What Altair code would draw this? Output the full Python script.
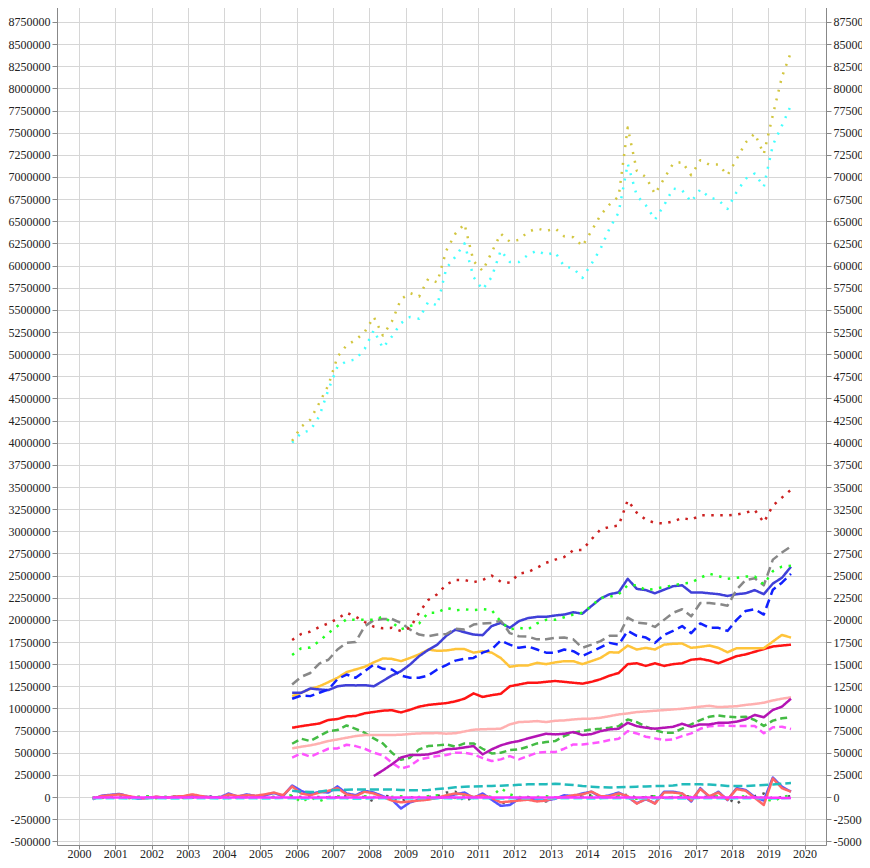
import altair as alt
import pandas as pd

# quarterly positions (decimal years)
x_main = [2005.875 + 0.25 * i for i in range(56)]   # Q4 2005 .. Q3 2019
x_zero = [2000.375 + 0.25 * i for i in range(78)]   # Q2 2000 .. Q3 2019

# ---- main series (thousands) ----
olive_dot = [4020, 4180, 4260, 4450, 4650, 4970, 5100, 5160, 5250, 5420, 5210, 5370, 5620, 5690, 5650, 5850, 5810,
             6170, 6360, 6470, 6050, 5940, 6150, 6360, 6270, 6290, 6380, 6420, 6390, 6420, 6330, 6320, 6220,
             6390, 6570, 6690, 6780, 7560, 7070, 7000, 6810, 6980, 7150, 7170, 7020, 7190, 7140, 7140, 7020,
             7200, 7390, 7490, 7260, 7700, 8130, 8410]
cyan_dot = [4000, 4110, 4140, 4300, 4600, 4860, 4920, 4940, 5060, 5270, 5070, 5200, 5350, 5420, 5400, 5590, 5550,
            5970, 6100, 6250, 5870, 5730, 5870, 6170, 6040, 6040, 6120, 6170, 6120, 6150, 5990, 5970, 5860,
            6020, 6190, 6420, 6600, 7150, 6790, 6680, 6520, 6680, 6870, 6850, 6720, 6860, 6770, 6740, 6640,
            6830, 6980, 7040, 6890, 7360, 7580, 7810]
red_dot = [1773, 1840, 1867, 1920, 1960, 2013, 2080, 2036, 1976, 1923, 1905, 1910, 1874, 1910, 2080, 2224, 2290,
           2400, 2450, 2450, 2426, 2450, 2500, 2430, 2420, 2520, 2540, 2588, 2644, 2680, 2710, 2787, 2790,
           2910, 3020, 3050, 3065, 3350, 3210, 3130, 3095, 3088, 3110, 3150, 3130, 3180, 3180, 3180, 3180,
           3190, 3210, 3240, 3100, 3290, 3380, 3470]
green_dot = [1604, 1680, 1687, 1760, 1850, 1930, 2006, 2000, 2000, 2000, 2036, 1970, 1893, 1930, 1960, 2080, 2080,
             2137, 2107, 2120, 2110, 2120, 2110, 1980, 1893, 1910, 1893, 1960, 2000, 2000, 2030, 2060, 2080,
             2156, 2250, 2260, 2290, 2390, 2390, 2336, 2350, 2370, 2390, 2410, 2420, 2475, 2520, 2495, 2465,
             2475, 2490, 2490, 2400, 2550, 2600, 2610]
gray_dash = [1270, 1357, 1400, 1507, 1550, 1665, 1740, 1750, 1928, 1996, 2010, 2010, 1966, 1890, 1834, 1815, 1834,
             1840, 1900, 1890, 1947, 1960, 1966, 1990, 1850, 1815, 1810, 1780, 1780, 1797, 1800, 1780, 1684,
             1720, 1760, 1820, 1820, 2025, 1970, 1960, 1920, 2000, 2080, 2120, 2040, 2190, 2190, 2180, 2160,
             2340, 2450, 2470, 2390, 2680, 2760, 2830]
blue_dash = [1109, 1146, 1139, 1177, 1214, 1330, 1383, 1346, 1420, 1496, 1447, 1440, 1372, 1346, 1346, 1372, 1440,
             1490, 1540, 1560, 1570, 1630, 1665, 1767, 1720, 1684, 1700, 1665, 1630, 1630, 1665, 1646, 1590,
             1640, 1690, 1740, 1720, 1875, 1820, 1800, 1740, 1830, 1875, 1930, 1850, 1960, 1910, 1910, 1875,
             2000, 2100, 2120, 2060, 2340, 2420, 2520]
blue_thin = [1177, 1177, 1225, 1214, 1207, 1250, 1263, 1260, 1263, 1250, 1310, 1372, 1420, 1496, 1590, 1660, 1720,
             1820, 1890, 1860, 1834, 1827, 1930, 1966, 1910, 1985, 2020, 2034, 2034, 2050, 2060, 2086, 2070,
             2156, 2240, 2290, 2310, 2464, 2350, 2336, 2300, 2340, 2380, 2390, 2310, 2310, 2300, 2290, 2270,
             2290, 2300, 2336, 2290, 2410, 2475, 2600]
gold_thin = [1139, 1177, 1220, 1250, 1297, 1346, 1410, 1440, 1470, 1520, 1564, 1560, 1534, 1570, 1610, 1665, 1650,
             1654, 1670, 1670, 1630, 1646, 1630, 1570, 1470, 1485, 1485, 1515, 1500, 1520, 1534, 1534, 1500,
             1534, 1570, 1635, 1630, 1710, 1665, 1684, 1665, 1720, 1730, 1733, 1684, 1695, 1710, 1684, 1634,
             1680, 1680, 1680, 1680, 1755, 1830, 1800]
red_thick = [782, 800, 815, 830, 870, 880, 910, 915, 945, 960, 975, 980, 955, 985, 1020, 1040, 1050,
             1060, 1080, 1110, 1170, 1130, 1150, 1165, 1250, 1270, 1290, 1290, 1300, 1310, 1300, 1290, 1280,
             1300, 1330, 1370, 1400, 1500, 1510, 1480, 1510, 1480, 1500, 1510, 1550, 1560, 1540, 1510, 1550,
             1590, 1610, 1640, 1670, 1700, 1710, 1720]
pink_thick = [549, 568, 583, 605, 632, 650, 669, 688, 699, 699, 700, 700, 703, 712, 718, 720, 722,
              715, 720, 740, 760, 765, 768, 771, 820, 846, 850, 857, 846, 861, 865, 876, 883,
              885, 895, 913, 932, 944, 959, 966, 974, 981, 989, 996, 1007, 1020, 1030, 1015, 1020,
              1025, 1040, 1050, 1065, 1090, 1110, 1126]
purple_thick = [None, None, None, None, None, None, None, None, None, 237, 300, 370, 445, 474, 474, 481, 505,
                540, 545, 560, 575, 481, 538, 583, 613, 632, 662, 688, 714, 707, 714, 733, 700,
                710, 744, 763, 771, 838, 800, 782, 771, 782, 793, 827, 793, 820, 820, 838, 838,
                851, 876, 926, 900, 983, 1020, 1110]
green_dash = [601, 658, 632, 688, 744, 756, 808, 770, 726, 662, 605, 500, 420, 444, 538, 575, 583,
              594, 568, 605, 605, 545, 492, 500, 530, 538, 568, 605, 620, 632, 688, 726, 744,
              763, 771, 782, 800, 876, 846, 793, 756, 726, 726, 771, 820, 868, 906, 921, 906,
              900, 907, 870, 802, 862, 889, 900]
magenta_dash = [444, 492, 455, 500, 545, 549, 590, 575, 545, 500, 470, 387, 320, 350, 425, 444, 462,
                474, 500, 500, 481, 440, 406, 425, 462, 425, 462, 500, 507, 507, 545, 594, 594,
                605, 620, 643, 658, 744, 718, 680, 662, 643, 650, 688, 718, 770, 800, 806, 806,
                802, 802, 802, 719, 787, 794, 768]
teal_dash = [70, 60, 56, 60, 75, 79, 82, 86, 86, 86, 86, 86, 80, 75, 75, 80, 90,
             98, 110, 117, 120, 122, 124, 128, 132, 138, 143, 143, 145, 150, 143, 135, 124,
             117, 110, 108, 110, 113, 117, 120, 124, 124, 130, 143, 143, 143, 140, 135, 124,
             124, 124, 130, 135, 140, 150, 158]

# ---- near-zero series (thousands), Q2 2000 .. Q3 2019 ----
blue_zero = [-25, 15, 25,
             35, 5, -20, -10, 0, -5, 0, 5, 20, 5, 0, -5, 40, 5, 30, 10,
             20, 45, 10, 130, 70, 30, 60, 50, 120, 40, 20, 70, 50, 10, -30, -130,
             -60, -30, -20, -10, 0, 30, 50, -10, 40, -30, -100, -90, -20, -10, -30, -40,
             -20, 20, 10, 40, 60, 0, 20, 50, 0, -70, -25, -70, 60, 60, 40, -50,
             100, 0, 60, -35, 100, 80, 0, -40, 220, 117, 60]
red_zero = [-20, 10, 20,
            30, 10, -10, -15, 5, -10, 5, 10, 30, 10, -5, -10, 30, 10, 20, 15,
            30, 50, 20, 120, 40, 20, 50, 70, 100, 30, 10, 60, 40, 0, -40, -60,
            -50, -40, -30, -10, 20, 40, 30, 0, 20, -10, -60, -50, -40, -30, -50, -40,
            -10, 0, 20, 30, 60, 10, 10, 40, 10, -75, -20, -75, 50, 50, 40, -40,
            90, 10, 50, -30, 90, 70, -10, -90, 210, 100, 60]
green_zero = [-5, -10, 0,
              5, -10, 0, 10, -15, 0, 5, -10, 0, 10, -5, 0, 10, -10, 0, 5,
              -5, 0, 10, 20, -60, 0, -50, 0, 10, -10, 0, 10, 0, -5, 0, 10,
              -10, 0, 10, 20, 0, -10, 10, 0, 20, 0, 100, 30, 0, -10, 0, 10,
              -10, 0, 10, 0, 5, -10, 0, 10, 0, -20, 0, 10, -10, 0, 10, 0,
              -10, 0, 10, -20, 0, 10, 0, -10, -50, 0, 20]
gray_zero = [-10, 0, 5,
             0, -10, 0, 5, -5, 0, 5, 0, -5, 0, 5, 0, -10, 0, 5, 0,
             -5, 0, 5, 10, 0, 5, 0, -5, 0, 10, 5, 0, -50, 20, 0, -50,
             0, -20, 0, 10, 50, 60, -50, 0, 10, -20, -60, -80, -10, 0, -20, -50,
             -10, 0, 5, 10, 20, 0, 10, 0, 30, -10, 0, 10, 0, -10, 0, 10,
             0, 0, 10, -10, -80, 0, 10, 40, -20, 0, 10]
cyan_zero = [-15, -15, -12,
             -15, -18, -15, -12, -15, -15, -18, -15, -12, -15, -15, -18, -15, -12, -15, -15,
             -18, -15, -12, -15, -20, -18, -15, -15, -12, -15, -20, -18, -15, -12, -15, -15,
             -18, -15, -12, -15, -15, -18, -15, -12, -15, -15, -18, -15, -12, -15, -15, -18,
             -15, -12, -15, -15, -18, -15, -12, -15, -15, -18, -15, -12, -15, -15, -18, -15,
             -12, -15, -15, -18, -15, -12, -15, -15, -18, -15, -12]
magenta_zero = [-5, -5, -4,
                -5, -6, -5, -4, -5, -5, -6, -5, -4, -5, -5, -6, -5, -4, -5, -5,
                -6, -5, -4, -5, -5, -6, -5, -4, -5, -5, -6, -5, -4, -5, -5, -6,
                -5, -4, -5, -5, -6, -5, -4, -5, -5, -6, -5, -4, -5, -5, -6, -5,
                -4, -5, -5, -6, -5, -4, -5, -5, -6, -5, -4, -5, -5, -6, -5, -4,
                -5, -5, -6, -5, -4, -5, -5, -6, -8, -10, -10]

# name, values, x list, color, width, dash  (draw order: first = bottom)
series = [
    ("gray_zero", gray_zero, x_zero, "#555555", 2.5, [2.5, 6.5]),
    ("green_zero", green_zero, x_zero, "#33ee33", 2.5, [2.5, 6.5]),
    ("blue_zero", blue_zero, x_zero, "#5555ff", 1.2, [1, 0]),
    ("red_zero", red_zero, x_zero, "#ff6666", 1.2, [1, 0]),
    ("cyan_zero", cyan_zero, x_zero, "#33eeee", 3.0, [9, 4]),
    ("magenta_zero", magenta_zero, x_zero, "#ff33ff", 2.5, [1, 0]),
    ("teal_dash", teal_dash, x_main, "#22bbbb", 3.5, [9, 4]),
    ("magenta_dash", magenta_dash, x_main, "#ff55ff", 1.6, [7, 4]),
    ("green_dash", green_dash, x_main, "#44bb44", 1.3, [7, 4]),
    ("pink_thick", pink_thick, x_main, "#ffb0b0", 3.5, [1, 0]),
    ("purple_thick", purple_thick, x_main, "#b414b4", 3.2, [1, 0]),
    ("red_thick", red_thick, x_main, "#ff1414", 3.2, [1, 0]),
    ("gold_thin", gold_thin, x_main, "#ffc43a", 1.6, [1, 0]),
    ("blue_thin", blue_thin, x_main, "#4040d8", 1.3, [1, 0]),
    ("blue_dash", blue_dash, x_main, "#1020ff", 3.5, [9, 5]),
    ("gray_dash", gray_dash, x_main, "#888888", 3.5, [9, 5]),
    ("green_dot", green_dot, x_main, "#22ff22", 2.8, [2.5, 6.5]),
    ("red_dot", red_dot, x_main, "#cc2020", 2.8, [2.5, 6.5]),
    ("cyan_dot", cyan_dot, x_main, "#44ffff", 2.0, [2, 7]),
    ("olive_dot", olive_dot, x_main, "#d2c640", 2.0, [2, 7]),
]

rows = []
for order, (name, vals, xs, _c, _w, _d) in enumerate(series):
    for x, v in zip(xs, vals):
        if v is None:
            continue
        rows.append({"series": name, "ord": order, "x": x, "y": v * 1000})
df = pd.DataFrame(rows)

names = [s[0] for s in series]
colors = [s[3] for s in series]
widths = [s[4] for s in series]
dashes = [s[5] for s in series]

x_ticks = list(range(2000, 2021))
y_ticks = list(range(-500000, 8750001, 250000))
x_dom = [1999.394, 2020.59]
y_dom = [-541800, 8941900]

xs = alt.Scale(domain=x_dom, nice=False, zero=False)
ys = alt.Scale(domain=y_dom, nice=False, zero=False)
x_axis = alt.Axis(values=x_ticks, labelExpr="'' + datum.value", grid=True,
                  tickSize=4, labelPadding=-1)

lines = alt.Chart(df).mark_line(strokeCap="butt", strokeJoin="round").encode(
    x=alt.X("x:Q", scale=xs, title=None, axis=x_axis),
    y=alt.Y("y:Q", scale=ys, title=None,
            axis=alt.Axis(values=y_ticks, labelExpr="'' + datum.value", grid=True, orient="left")),
    color=alt.Color("series:N", scale=alt.Scale(domain=names, range=colors), legend=None),
    strokeWidth=alt.StrokeWidth("series:N", scale=alt.Scale(domain=names, range=widths), legend=None),
    strokeDash=alt.StrokeDash("series:N", scale=alt.Scale(domain=names, range=dashes), legend=None),
    order=alt.Order("x:Q"),
)

right = alt.Chart(df).mark_line(opacity=0).encode(
    x=alt.X("x:Q", scale=xs, title=None, axis=x_axis),
    y=alt.Y("y:Q", scale=ys, title=None,
            axis=alt.Axis(values=y_ticks, labelExpr="'' + datum.value", grid=False, orient="right")),
    detail="series:N",
)

chart = alt.layer(lines, right).resolve_scale(y="independent").properties(
    width=769,
    height=840,
    autosize=alt.AutoSizeParams(type="none"),
    padding={"left": 49, "top": -3, "right": 36, "bottom": 15},
).configure_view(stroke=None).configure_axis(
    labelFont="Liberation Serif",
    labelFontSize=12,
    labelColor="#222222",
    domainColor="#888888",
    tickColor="#888888",
    tickSize=5,
    gridColor="#d6d6d6",
    gridWidth=1,
    labelPadding=2,
)

chart.save("out.html", embed_options={"renderer": "svg", "actions": False})
